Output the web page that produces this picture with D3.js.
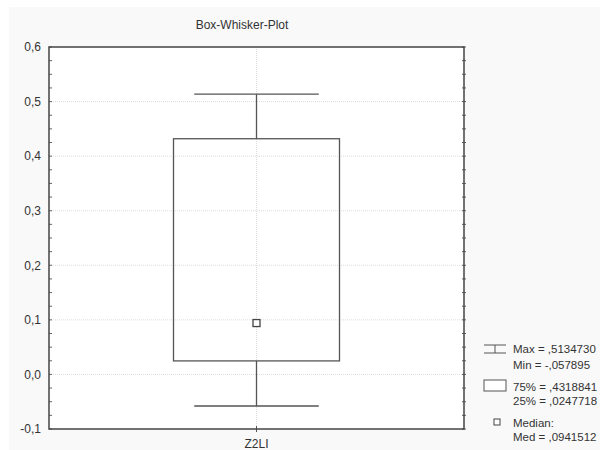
<!DOCTYPE html>
<html><head><meta charset="utf-8">
<script src="https://cdn.jsdelivr.net/npm/d3@7"></script>
<style>body{margin:0;background:#fff}svg{display:block}text{font-family:"Liberation Sans",Arial,sans-serif;fill:#333}</style>
</head><body><svg id="c" width="600" height="450"></svg>
<script>
const categories = ["Z2LI"];
const minVals = [-0.057895];
const q1Vals = [0.0247718];
const medVals = [0.0941512];
const q3Vals = [0.4318841];
const maxVals = [0.5134730];
const yTicks = [-0.1, 0, 0.1, 0.2, 0.3, 0.4, 0.5, 0.6];
const legendLabels = ["Max = ,5134730", "Min  = -,057895", "75% = ,4318841", "25% = ,0247718", "Median:", "Med = ,0941512"];
const title = "Box-Whisker-Plot";

const svg = d3.select("#c");
const L = 49, R = 464, T = 47, B = 429;
svg.append("rect").attr("x", 9).attr("y", 7).attr("width", 591).attr("height", 443).attr("fill", "#f9f9f9");
svg.append("rect").attr("x", L).attr("y", T).attr("width", R - L).attr("height", B - T).attr("fill", "#fff");

const y = d3.scaleLinear().domain([-0.1, 0.6]).range([B, T]);
const x = d3.scaleBand().domain(categories).range([L, R]);
const loc = d3.formatLocale({decimal: ",", thousands: ".", grouping: [3], currency: ["", ""], minus: "-"});
const fmt = loc.format(".1f");

// grid
const g = svg.append("g");
g.selectAll("line.h").data(yTicks.filter(d => d > -0.1 && d < 0.6)).join("line")
  .attr("x1", L).attr("x2", R).attr("y1", d => y(d)).attr("y2", d => y(d))
  .attr("stroke", "#dcdcdc").attr("stroke-width", 1).attr("stroke-dasharray", "1,1");
g.selectAll("line.v").data(categories).join("line")
  .attr("x1", d => x(d) + x.bandwidth() / 2).attr("x2", d => x(d) + x.bandwidth() / 2)
  .attr("y1", T).attr("y2", B).attr("stroke", "#dcdcdc").attr("stroke-dasharray", "1,1");

// minor ticks
const minor = d3.range(0, 29).map(i => -0.1 + i * 0.025);
svg.append("g").selectAll("line").data(minor).join("line")
  .attr("x1", L).attr("x2", L + 3).attr("y1", d => y(d)).attr("y2", d => y(d)).attr("stroke", "#666");
svg.append("g").selectAll("line").data(minor).join("line")
  .attr("x1", R - 2).attr("x2", R + 2).attr("y1", d => y(d)).attr("y2", d => y(d)).attr("stroke", "#666");

// y axis labels
const yAxis = d3.axisLeft(y).tickValues(yTicks).tickFormat(fmt).tickSize(0).tickPadding(8);
const ya = svg.append("g").attr("transform", `translate(${L},0)`).call(yAxis);
ya.select(".domain").remove();
ya.selectAll("text").attr("font-size", 12).attr("fill", "#333").style("font-family", '"Liberation Sans",Arial,sans-serif');

// x axis
const xAxis = d3.axisBottom(x).tickSize(0).tickPadding(10);
const xa = svg.append("g").attr("transform", `translate(0,${B})`).call(xAxis);
xa.select(".domain").remove();
xa.selectAll("text").attr("font-size", 12).attr("fill", "#333").style("font-family", '"Liberation Sans",Arial,sans-serif');
svg.append("g").selectAll("line").data(categories).join("line")
  .attr("x1", d => x(d) + x.bandwidth() / 2).attr("x2", d => x(d) + x.bandwidth() / 2)
  .attr("y1", B - 3).attr("y2", B + 3).attr("stroke", "#555");

// frame
svg.append("rect").attr("x", L).attr("y", T).attr("width", R - L).attr("height", B - T)
  .attr("fill", "none").attr("stroke", "#444").attr("stroke-width", 1.5);

// boxes
const data = categories.map((c, i) => ({c, min: minVals[i], q1: q1Vals[i], med: medVals[i], q3: q3Vals[i], max: maxVals[i]}));
const bw = x.bandwidth() * 0.4, cw = x.bandwidth() * 0.3;
const bg = svg.append("g").selectAll("g").data(data).join("g")
  .attr("transform", d => `translate(${x(d.c) + x.bandwidth() / 2},0)`);
const st = "#555";
bg.append("line").attr("x1", 0).attr("x2", 0).attr("y1", d => y(d.max)).attr("y2", d => y(d.q3)).attr("stroke", st).attr("stroke-width", 1.3);
bg.append("line").attr("x1", 0).attr("x2", 0).attr("y1", d => y(d.q1)).attr("y2", d => y(d.min)).attr("stroke", st).attr("stroke-width", 1.3);
bg.append("line").attr("x1", -cw / 2).attr("x2", cw / 2).attr("y1", d => y(d.max)).attr("y2", d => y(d.max)).attr("stroke", st).attr("stroke-width", 1.3);
bg.append("line").attr("x1", -cw / 2).attr("x2", cw / 2).attr("y1", d => y(d.min)).attr("y2", d => y(d.min)).attr("stroke", st).attr("stroke-width", 1.3);
bg.append("rect").attr("x", -bw / 2).attr("width", bw).attr("y", d => y(d.q3)).attr("height", d => y(d.q1) - y(d.q3))
  .attr("fill", "none").attr("stroke", st).attr("stroke-width", 1.3);
bg.append("rect").attr("x", -3.5).attr("width", 7).attr("y", d => y(d.med) - 3.5).attr("height", 7)
  .attr("fill", "#fff").attr("stroke", "#444").attr("stroke-width", 1.3);

// title
svg.append("text").attr("x", 242).attr("y", 29).attr("text-anchor", "middle").attr("font-size", 12).text(title);

// legend
const lg = svg.append("g");
lg.append("line").attr("x1", 484).attr("x2", 506).attr("y1", 345).attr("y2", 345).attr("stroke", st);
lg.append("line").attr("x1", 484).attr("x2", 506).attr("y1", 353).attr("y2", 353).attr("stroke", st);
lg.append("line").attr("x1", 495).attr("x2", 495).attr("y1", 345).attr("y2", 353).attr("stroke", st);
lg.append("rect").attr("x", 484).attr("y", 380).attr("width", 22).attr("height", 11).attr("fill", "#fff").attr("stroke", st);
lg.append("rect").attr("x", 494).attr("y", 419).attr("width", 6).attr("height", 6).attr("fill", "#fff").attr("stroke", "#444");
const ly = [353, 369, 391, 405, 427, 441];
lg.selectAll("text").data(legendLabels).join("text").attr("x", 513).attr("y", (d, i) => ly[i])
  .attr("font-size", 11.5).text(d => d);
</script></body></html>
